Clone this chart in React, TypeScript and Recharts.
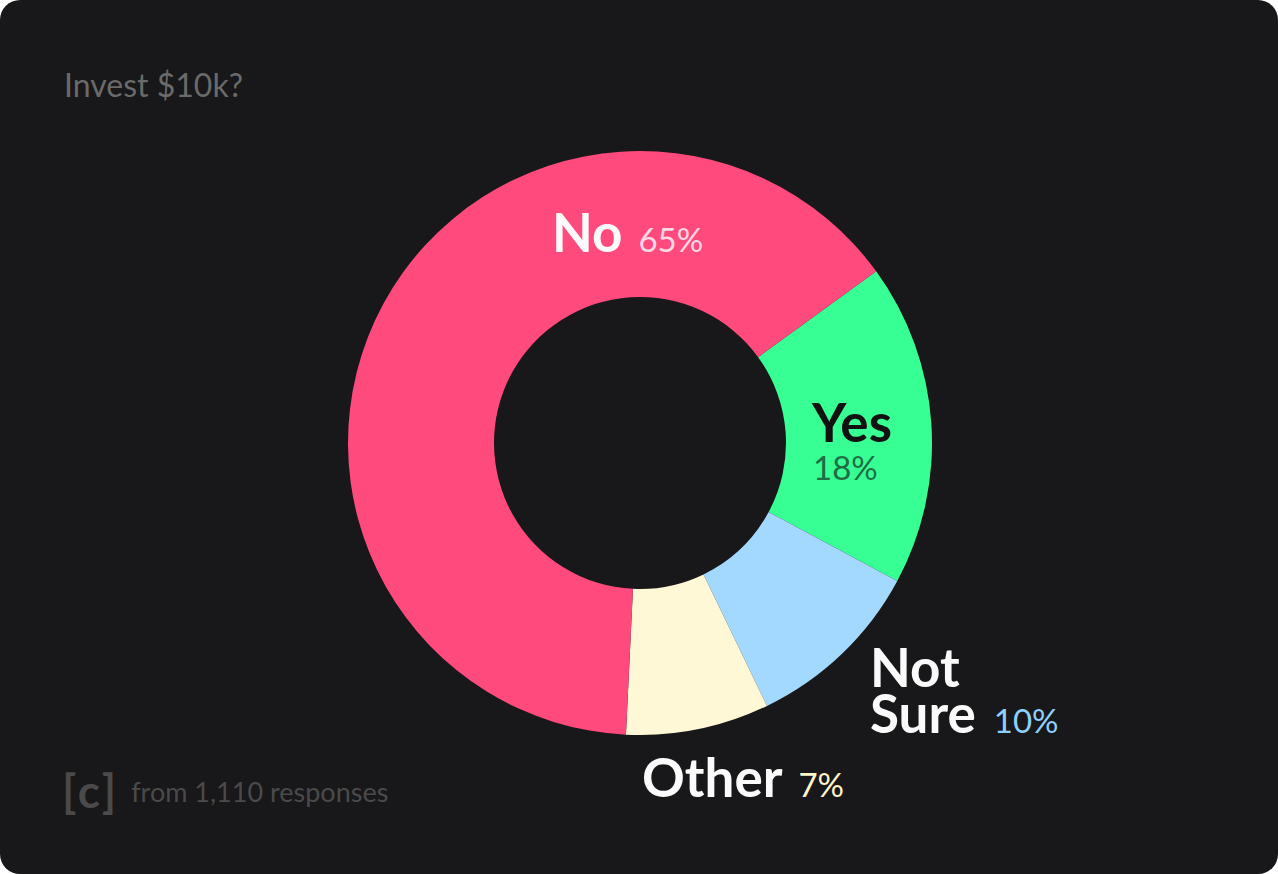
import { Cell, Pie, PieChart } from "recharts";

// slice sizes (responses), printed percentages
const categories = ["Yes", "Not Sure", "Other", "No"];
const responses = [198, 111, 88, 713];
const percentLabels = ["18%", "10%", "7%", "65%"];
const sliceColors = ["#38ff94", "#a3d8ff", "#fff8d6", "#ff4a7d"];

const title = "Invest $10k?";
const footnote = "from 1,110 responses";

const data = categories.map((name, i) => ({ name, value: responses[i], pct: percentLabels[i] }));

const FONT = "Lato, 'Open Sans', sans-serif";

// label placement relative to the pie centre
const labelStyle: Record<string, { dx: number; dy: number; nameFill: string; pctFill: string }> = {
  No: { dx: -88, dy: -191, nameFill: "#fafafa", pctFill: "#ffd9e4" },
  Yes: { dx: 172, dy: -1, nameFill: "#121212", pctFill: "#1f6e45" },
  "Not Sure": { dx: 230, dy: 244, nameFill: "#fafafa", pctFill: "#8fd0ff" },
  Other: { dx: 2, dy: 354, nameFill: "#fafafa", pctFill: "#fff5c8" },
};

function SliceLabel(props: any) {
  const { cx, cy, name, payload } = props;
  const s = labelStyle[name];
  if (!s) return null;
  const x = cx + s.dx;
  const y = cy + s.dy;
  const nameProps = { fontFamily: FONT, fontWeight: 700, fontSize: 53, fill: s.nameFill };
  const pctProps = { fontFamily: FONT, fontWeight: 400, fontSize: 33, fill: s.pctFill };

  if (name === "Yes") {
    return (
      <g>
        <text x={x} y={y} {...nameProps}>{name}</text>
        <text x={x + 1} y={y + 38} {...pctProps}>{payload.pct}</text>
      </g>
    );
  }
  if (name === "Not Sure") {
    return (
      <g>
        <text x={x} y={y} {...nameProps}>Not</text>
        <text x={x} y={y + 46} {...nameProps}>
          Sure
          <tspan dx={18} {...pctProps}>{payload.pct}</tspan>
        </text>
      </g>
    );
  }
  return (
    <text x={x} y={y} {...nameProps}>
      {name}
      <tspan dx={16} {...pctProps}>{payload.pct}</tspan>
    </text>
  );
}

export default function App() {
  return (
    <div
      style={{
        position: "absolute",
        left: 0,
        top: 0,
        width: 1278,
        height: 874,
        background: "#181719",
        borderRadius: 20,
        overflow: "hidden",
        fontFamily: FONT,
      }}
    >
      <div style={{ position: "absolute", left: 64, top: 69, fontSize: 32, color: "#6a6a6a", lineHeight: 1 }}>
        {title}
      </div>
      <div style={{ position: "absolute", left: 0, top: 0 }}>
        <PieChart width={1278} height={874} margin={{ top: 0, right: 0, bottom: 0, left: 0 }}>
          <Pie
            data={data}
            dataKey="value"
            nameKey="name"
            cx={640}
            cy={443}
            innerRadius={146}
            outerRadius={292}
            startAngle={36}
            endAngle={-324}
            stroke="none"
            labelLine={false}
            label={SliceLabel}
            isAnimationActive={false}
          >
            {data.map((d, i) => (
              <Cell key={d.name} fill={sliceColors[i]} />
            ))}
          </Pie>
        </PieChart>
      </div>
      <div
        style={{
          position: "absolute",
          left: 62,
          top: 768,
          display: "flex",
          alignItems: "center",
          color: "#4a4a4a",
          lineHeight: 1,
        }}
      >
        <span style={{ fontSize: 46, fontWeight: 700, letterSpacing: 3 }}>[c]</span>
        <span style={{ fontSize: 27, marginLeft: 12 }}>{footnote}</span>
      </div>
    </div>
  );
}
